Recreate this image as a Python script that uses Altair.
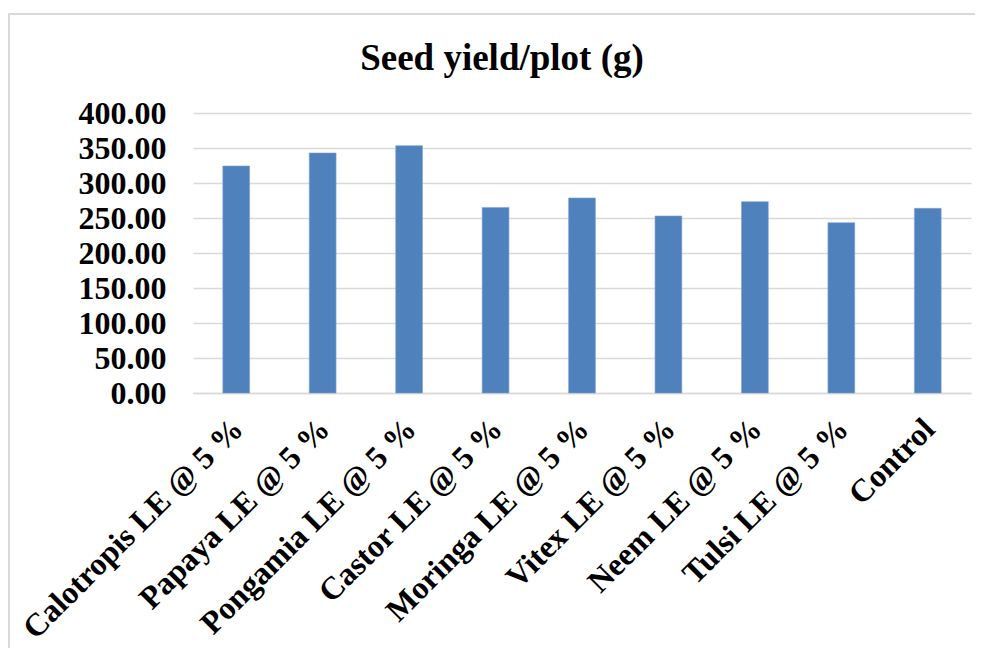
import altair as alt
import pandas as pd

categories = [
    "Calotropis LE @ 5 %",
    "Papaya LE @ 5 %",
    "Pongamia LE @ 5 %",
    "Castor LE @ 5 %",
    "Moringa LE @ 5 %",
    "Vitex LE @ 5 %",
    "Neem LE @ 5 %",
    "Tulsi LE @ 5 %",
    "Control",
]
seed_yield = [324.3, 342.9, 353.3, 265.1, 278.6, 252.9, 273.3, 243.3, 263.8]
y_ticks = [0, 50, 100, 150, 200, 250, 300, 350, 400]

df = pd.DataFrame({"Treatment": categories, "Yield": seed_yield})

FONT = "Liberation Serif"

bars = alt.Chart(df).mark_bar(color="#4F81BD", stroke="#7FA3D3", strokeWidth=0.6).encode(
    x=alt.X(
        "Treatment:N",
        sort=categories,
        scale=alt.Scale(paddingInner=0.69, paddingOuter=0.345),
        axis=alt.Axis(
            title=None,
            labelAngle=-45,
            labelFont=FONT,
            labelFontSize=32,
            labelFontWeight="bold",
            labelColor="black",
            labelPadding=20,
            labelOffset=-9,
            labelLimit=400,
            ticks=False,
            domainColor="#D9D9D9",
            domainWidth=1.5,
        ),
    ),
    y=alt.Y(
        "Yield:Q",
        scale=alt.Scale(domain=[0, 400], nice=False),
        axis=alt.Axis(
            title=None,
            values=y_ticks,
            format=".2f",
            labelFont=FONT,
            labelFontSize=32,
            labelFontWeight="bold",
            labelColor="black",
            labelPadding=27,
            ticks=False,
            domain=False,
            gridColor="#D9D9D9",
            gridWidth=1.5,
        ),
    ),
)

frame = alt.Chart(df).mark_rect(fill=None, stroke="#D9D9D9", strokeWidth=1.5).encode(
    x=alt.value(-184), x2=alt.value(820), y=alt.value(-99), y2=alt.value(600)
)

chart = alt.layer(frame, bars).properties(
    width=778,
    height=280,
    title=alt.TitleParams(
        "Seed yield/plot (g)",
        font=FONT,
        fontSize=37,
        fontWeight="bold",
        color="black",
        anchor="middle",
        baseline="alphabetic",
        dx=-80,
        offset=-94,
    ),
    autosize=alt.AutoSizeParams(type="none"),
    padding={"left": 185, "top": 105, "right": 4, "bottom": 255},
).configure_view(stroke=None)

chart.save("out.html", embed_options={"renderer": "svg", "actions": False})
